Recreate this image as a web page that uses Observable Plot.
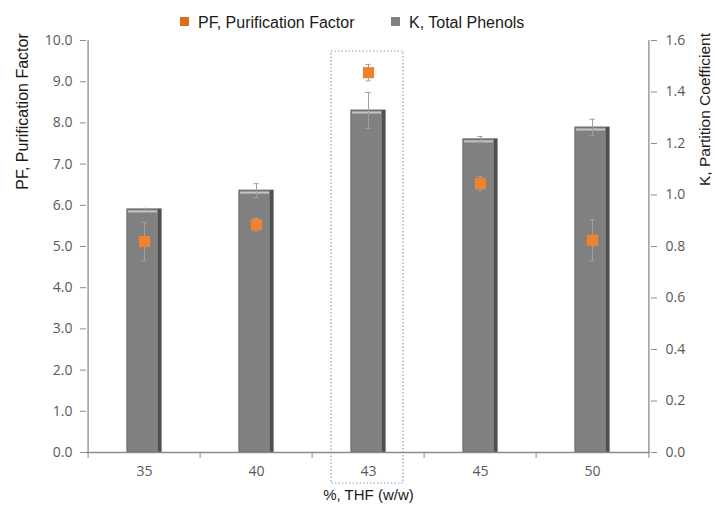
<!DOCTYPE html>
<html>
<head>
<meta charset="utf-8">
<script src="https://cdn.jsdelivr.net/npm/d3@7"></script>
<script src="https://cdn.jsdelivr.net/npm/@observablehq/plot@0.6"></script>
<style>
  body { margin: 0; background: #fff; }
  #wrap { position: relative; width: 715px; height: 509px; }
  #legend { position: absolute; top: 14px; left: 0; width: 715px; font: 16px "Liberation Sans", Arial, sans-serif; color: #1a1a1a; }
  #legend span.item { position: absolute; white-space: nowrap; }
  #legend span.sw { display: inline-block; width: 9px; height: 9px; margin-right: 9px; vertical-align: 2px; }
</style>
</head>
<body>
<div id="wrap">
  <div id="chart"></div>
  <div id="legend">
    <span class="item" style="left:180px"><span class="sw" style="background:#dc6b1f"></span>PF, Purification Factor</span>
    <span class="item" style="left:391px"><span class="sw" style="background:#7f7f7f"></span>K, Total Phenols</span>
  </div>
</div>
<script>
// ---- data ----
const categories = ["35", "40", "43", "45", "50"];          // %, THF (w/w)
const kValues    = [0.944, 1.017, 1.328, 1.216, 1.262];       // K, Total Phenols (right axis)
const kErrors    = [0.004, 0.027, 0.070, 0.011, 0.032];
const pfValues   = [5.12, 5.53, 9.22, 6.53, 5.15];            // PF, Purification Factor (left axis)
const pfErrors   = [0.47, 0.15, 0.20, 0.17, 0.50];
const pfTicks    = [0, 1, 2, 3, 4, 5, 6, 7, 8, 9, 10];
const kTicks     = [0, 0.2, 0.4, 0.6, 0.8, 1.0, 1.2, 1.4, 1.6];
const highlighted = ["43"];

// ---- helpers ----
const pfMax = 10, kMax = 1.6, kToPf = pfMax / kMax;
const rows = categories.map((c, i) => ({
  cat: c,
  k: kValues[i] * kToPf,
  kLo: (kValues[i] - kErrors[i]) * kToPf,
  kHi: (kValues[i] + kErrors[i]) * kToPf,
  pf: pfValues[i],
  pfLo: pfValues[i] - pfErrors[i],
  pfHi: pfValues[i] + pfErrors[i]
}));

const W = 715, H = 509, mL = 86, mR = 65, mT = 40, mB = 57;
const bw = (W - mL - mR) / categories.length;
const barInset = bw / 2 - 17.5;
const capInset = bw / 2 - 3;
const tickFont = { fontFamily: "'Open Sans', sans-serif", fontSize: 14, fill: "#595959" };
const axisColor = "#8c8c8c";
const errColor = "#a0a0a0";
const first = categories[0], last = categories[categories.length - 1];

const chart = Plot.plot({
  width: W, height: H,
  marginLeft: mL, marginRight: mR, marginTop: mT, marginBottom: mB,
  style: { fontFamily: "'Open Sans', sans-serif", fontSize: "14px", background: "#fff" },
  x: { type: "band", domain: categories, padding: 0, axis: null },
  y: { domain: [0, pfMax], axis: null },
  marks: [
    // bars (K, scaled onto the PF axis)
    Plot.barY(rows, { x: "cat", y: "k", fill: "#808080", stroke: "#666", strokeWidth: 1, insetLeft: barInset, insetRight: barInset }),
    // darker right edge
    Plot.barY(rows, { x: "cat", y: "k", fill: "#505050", insetLeft: barInset + 31, insetRight: barInset }),
    // top highlight
    Plot.tickY(rows, { x: "cat", y: "k", stroke: "#c4c4c4", strokeWidth: 2, dy: 2, insetLeft: barInset + 1, insetRight: barInset + 4 }),
    // K error bars
    Plot.ruleX(rows, { x: "cat", y1: "kLo", y2: "kHi", stroke: errColor, strokeWidth: 1 }),
    Plot.tickY(rows, { x: "cat", y: "kHi", stroke: errColor, insetLeft: capInset, insetRight: capInset }),
    Plot.tickY(rows, { x: "cat", y: "kLo", stroke: errColor, insetLeft: capInset, insetRight: capInset }),
    // PF error bars
    Plot.ruleX(rows, { x: "cat", y1: "pfLo", y2: "pfHi", stroke: errColor, strokeWidth: 1 }),
    Plot.tickY(rows, { x: "cat", y: "pfHi", stroke: errColor, insetLeft: capInset, insetRight: capInset }),
    Plot.tickY(rows, { x: "cat", y: "pfLo", stroke: errColor, insetLeft: capInset, insetRight: capInset }),
    // PF markers
    Plot.dot(rows, { x: "cat", y: "pf", symbol: "square", r: 6.3, fill: "#f0812e", stroke: "none" }),
    // highlight box around 43
    Plot.barY(highlighted, { x: d => d, y1: 0, y2: pfMax, fill: "none", stroke: "#7fa3c6", strokeWidth: 1.2, strokeDasharray: "1.5,2", insetLeft: 19, insetRight: 21, insetTop: 11, insetBottom: -31 }),
    // left and right axis lines
    Plot.ruleX([first], { x: d => d, y1: 0, y2: pfMax, dx: -bw / 2, stroke: axisColor, strokeWidth: 1.3 }),
    Plot.ruleX([last], { x: d => d, y1: 0, y2: pfMax, dx: bw / 2, stroke: axisColor, strokeWidth: 1.3 }),
    Plot.axisY({ anchor: "left", ticks: pfTicks, tickFormat: d => d.toFixed(1), tickSize: 6, tickPadding: 8, stroke: axisColor, label: null, ...tickFont, color: "#595959" }),
    // right axis (K scale mapped onto PF scale)
    Plot.axisY({ anchor: "right", ticks: kTicks.map(k => k * kToPf), tickFormat: d => (d / kToPf).toFixed(1), tickSize: 6, tickPadding: 9, stroke: axisColor, label: null, ...tickFont, color: "#595959" }),
    // x axis line and labels
    Plot.ruleY([0], { stroke: axisColor, strokeWidth: 1.3 }),
    Plot.axisX({ anchor: "bottom", tickSize: 0, tickPadding: 14, label: null, ...tickFont, color: "#595959" }),
    // x boundary ticks
    Plot.ruleX(categories, { x: d => d, y1: 0, y2: 0, insetBottom: -6, dx: -bw / 2, stroke: axisColor }),
    Plot.ruleX([last], { x: d => d, y1: 0, y2: 0, insetBottom: -6, dx: bw / 2, stroke: axisColor }),
    // axis titles
    Plot.text(["PF, Purification Factor"], { frameAnchor: "top-left", text: d => d, rotate: -90, textAnchor: "middle", lineAnchor: "middle", dx: -64, dy: 71, fontFamily: "'Liberation Sans', Arial, sans-serif", fontSize: 16, fill: "#1a1a1a" }),
    Plot.text(["K, Partition Coefficient"], { frameAnchor: "top-right", text: d => d, rotate: -90, textAnchor: "middle", lineAnchor: "middle", dx: 55, dy: 69, fontFamily: "'Liberation Sans', Arial, sans-serif", fontSize: 15.5, fill: "#1a1a1a" }),
    Plot.text(["%, THF (w/w)"], { frameAnchor: "bottom", text: d => d, textAnchor: "middle", lineAnchor: "middle", dy: 43, fontFamily: "'Liberation Sans', Arial, sans-serif", fontSize: 15, fill: "#1a1a1a" })
  ]
});
document.getElementById("chart").appendChild(chart);
</script>
</body>
</html>
